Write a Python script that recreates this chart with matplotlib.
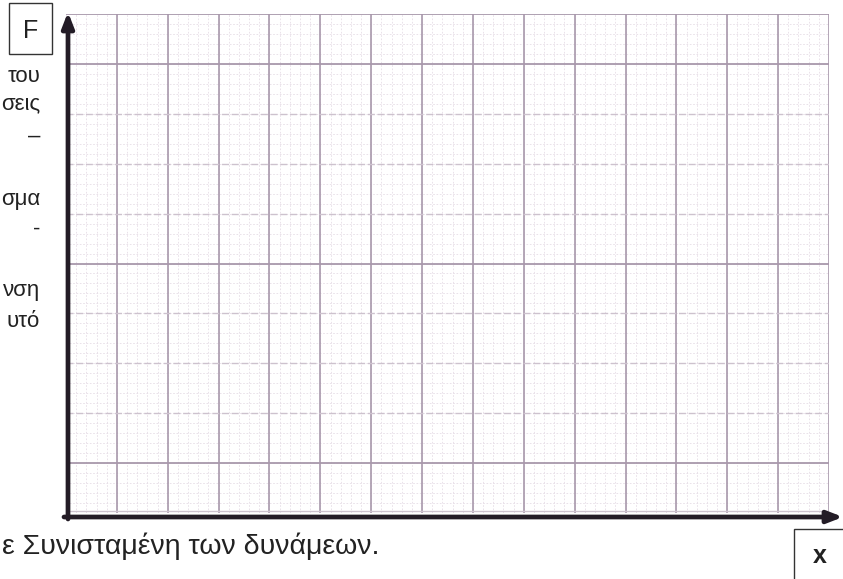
import matplotlib.pyplot as plt
import matplotlib.patches as patches
import numpy as np

W, H = 843, 579

# grid layout: 15 big columns, 10 big rows, 5 small squares each
n_cols = 15
n_rows = 10
n_sub = 5
strong_rows = [1, 5, 9]          # horizontal lines that came out darker in the scan

left_words = ["του", "σεις", "–", "σμα", "-", "νση", "υτό"]
left_baselines = [82, 109, 142, 205, 235, 296, 327]
bottom_text = "ε Συνισταμένη των δυνάμεων."
y_label = "F"
x_label = "x"

grid_col = "#a898ab"
grid_soft = "#cdc2ce"
minor_col = "#e6dde6"
axis_col = "#231c26"

plt.rcParams['font.family'] = ['Liberation Sans', 'DejaVu Sans']


def fx(px):
    return px / W


def fy(py):
    return 1 - py / H


fig = plt.figure(figsize=(W / 100, H / 100), dpi=100)
fig.patch.set_facecolor("white")
ax = fig.add_axes([fx(66), fy(513), (829 - 66) / W, (513 - 14) / H])
ax.set_xlim(0, n_cols)
ax.set_ylim(0, n_rows)
ax.set_xticks([])
ax.set_yticks([])
for s in ax.spines.values():
    s.set_visible(False)

# small squares
for v in np.arange(0, n_cols, 1 / n_sub):
    ax.axvline(v, color=minor_col, lw=0.6, ls=(0, (2, 2)), zorder=1)
for h in np.arange(0, n_rows, 1 / n_sub):
    ax.axhline(h, color=minor_col, lw=0.6, ls=(0, (2, 2)), zorder=1)

# big squares
for v in range(1, n_cols + 1):
    ax.axvline(v, color=grid_col, lw=1.2, zorder=2)
for h in range(1, n_rows + 1):
    if h in strong_rows or h == n_rows:
        ax.axhline(h, color=grid_col, lw=1.3, zorder=2)
    else:
        ax.axhline(h, color=grid_soft, lw=1.0, ls=(0, (5, 2)), zorder=2)
ax.axhline(0.05, color=grid_soft, lw=1.0, zorder=2)

# axes with arrows
ax.annotate("", xy=(fx(843), fy(517)), xytext=(fx(64), fy(517)),
            xycoords='figure fraction', textcoords='figure fraction',
            arrowprops=dict(arrowstyle='-|>,head_length=0.9,head_width=0.35',
                            color=axis_col, lw=3.4, shrinkA=0, shrinkB=0))
ax.annotate("", xy=(fx(68), fy(12)), xytext=(fx(68), fy(519)),
            xycoords='figure fraction', textcoords='figure fraction',
            arrowprops=dict(arrowstyle='-|>,head_length=0.9,head_width=0.35',
                            color=axis_col, lw=3.4, shrinkA=0, shrinkB=0))

# labels in boxes
fig.patches.append(patches.Rectangle((fx(9), fy(54)), fx(43), 51 / H,
                                     transform=fig.transFigure, fill=False,
                                     ec="#333333", lw=1.0))
fig.text(fx(31), fy(38), y_label, fontsize=18, ha='center', va='baseline',
         color="#222222")
fig.patches.append(patches.Rectangle((fx(794), fy(585)), fx(60), 56 / H,
                                     transform=fig.transFigure, fill=False,
                                     ec="#333333", lw=1.0))
fig.text(fx(820), fy(563), x_label, fontsize=18, fontweight='bold',
         ha='center', va='baseline', color="#222222")

# cut-off text of the page
for word, yb in zip(left_words, left_baselines):
    fig.text(fx(40), fy(yb), word, fontsize=16, ha='right', va='baseline',
             color="#222222")
fig.text(fx(2), fy(554), bottom_text, fontsize=20.5, ha='left',
         va='baseline', color="#222222")

fig.savefig("out.png", dpi=100)
